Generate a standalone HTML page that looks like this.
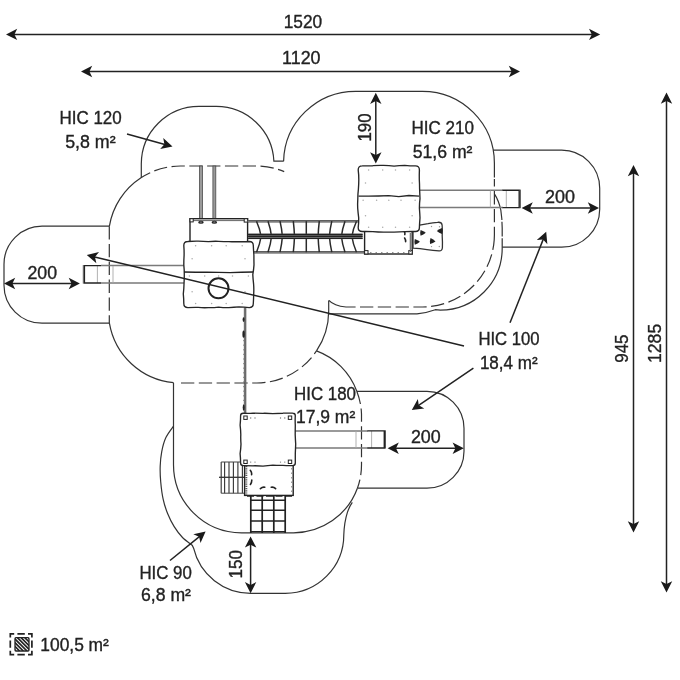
<!DOCTYPE html>
<html>
<head>
<meta charset="utf-8">
<title>Playground safety zones</title>
<style>
html,body{margin:0;padding:0;background:#fff;}
body{width:680px;height:680px;overflow:hidden;}
svg{display:block;}
text{font-family:"Liberation Sans",sans-serif;font-size:17.6px;fill:#222;stroke:#222;stroke-width:0.35px;}
#txt{opacity:0.999;}
.o{fill:none;stroke:#333;stroke-width:1.2;}
.d{fill:none;stroke:#333;stroke-width:1.2;stroke-dasharray:13.3 4.5;}
.dim{fill:none;stroke:#222;stroke-width:1.5;}
.g{fill:none;stroke:#7a7a7a;stroke-width:1.5;}
.k{fill:none;stroke:#222;stroke-width:1.4;}
.ah{fill:#1a1a1a;stroke:none;}
</style>
</head>
<body>
<svg width="680" height="680" viewBox="0 0 680 680">
<rect width="680" height="680" fill="#fff"/>
<!-- safety zone outlines -->
<g id="zones">
<path class="o" d="M109.5,226.2 H42 A38,38 0 0 0 4,264.2 V285.2 A38,38 0 0 0 42,323.2 H109.5"/>
<path class="d" d="M109.3,226.2 V323.2" stroke-dasharray="26.1 5.7 20 6.8 22.9 3.8 12"/>
<path class="o" d="M109.4,226.2 A72,72 0 0 1 141,177.8"/>
<path class="d" d="M141,177.8 A72,72 0 0 1 181.0,166.0 H256.7 A72,72 0 0 1 284.2,171.6" stroke-dashoffset="2.8"/>
<path class="o" d="M109.4,323.2 A72,72 0 0 0 173.5,382.7"/>
<path class="d" d="M181,383.0 H256.7 A72,72 0 0 0 316.5,350.9" stroke-dasharray="15.3 4.5 13.3 4.5 13.3 4.5 13.3 4.5 13.3 4.5 13.3 4.5 13.3 4.5 18.3 20"/>
<path class="o" d="M316.5,350.9 A72,72 0 0 0 328.7,311.0 V300.4"/>
<path class="o" d="M141.3,178 V164 A57.7,57.7 0 0 1 199,106.4 H216.3 A57.7,57.7 0 0 1 273.9,161.2 H283.6"/>
<path class="o" d="M283.6,161.2 A72,71.6 0 0 1 355.6,91.3 H422.4 A72,72 0 0 1 494.4,163.3 V177.5"/>
<path class="o" d="M328.9,300.4 Q334,306 346,307 H355.6"/>
<path class="d" d="M360,307 H422.4 A72,72 0 0 0 494.2,240" stroke-dasharray="13.3 4.4"/>
<path class="d" d="M494.2,240 L494.4,235 V179" stroke-dasharray="0 2.2 15.4 2.4 11.6 4.4 25"/>
<path class="o" d="M494.4,193.8 Q498.8,200.5 500.8,210 Q502.2,219 502.2,228 V248.2 A61.9,61.9 0 0 1 440.3,310.1 L435.3,309.7 Q427,312.8 417,313.8 H328.7"/>
<path d="M499.5,220.9 H504 M500,237.4 H504.5" stroke="#fff" stroke-width="1.7" fill="none"/>
<path class="o" d="M493.2,150.2 H561.7 A38,38 0 0 1 599.7,188.2 V209.2 A38,38 0 0 1 561.7,247.2 H502.2"/>
<path class="o" d="M316.5,350.9 A68,68 0 0 1 356.8,391.2"/>
<path class="d" d="M356.8,391.2 A68,68 0 0 1 361.5,414 V464.8 A68,68 0 0 1 357.4,488.2" stroke-dasharray="0 2 13.7 4.5 13.7 4.5 13.7 4.5 13.7 4.5 13.7 4.5 6 20"/>
<path class="o" d="M173.5,382.7 V464.8 A68,68 0 0 0 241.5,532.8 H293.5 A68,68 0 0 0 357.4,488.2"/>
<path class="o" d="M356.8,391.3 H427 A37,37 0 0 1 464,428.3 V451.2 A37,37 0 0 1 427,488.2 H357.4"/>
<path class="o" d="M173.5,426.2 C172.2,428.1 167.9,433.3 165.9,437.6 C163.9,441.9 162.6,447.1 161.7,451.8 C160.8,456.5 160.4,460.9 160.2,465.9 C160.0,470.9 160.2,476.2 160.7,481.8 C161.2,487.4 162.0,494.1 163.2,499.4 C164.3,504.7 165.8,509.0 167.6,513.5 C169.4,518.0 171.7,522.6 174.2,526.6 C176.7,530.6 179.5,534.4 182.5,537.5 C185.5,540.6 190.6,543.9 192.2,545.2 L193.6,548.2 A58.6,58.6 0 0 0 250.8,593.3 H285.2 A58.6,58.6 0 0 0 343.8,534.7 Q344.3,522 347.4,512.4 Q349.4,506.5 352.3,502.4"/>
</g>
<!-- equipment -->
<g id="equip">
<path d="M245.4,307 V413" stroke="#6a6a6a" stroke-width="1.9" fill="none"/>
<path d="M244.3,307 V413" stroke="#444" stroke-width="0.7" fill="none"/>
<path d="M243.8,340 V405" stroke="#777" stroke-width="1" stroke-dasharray="1.2 3.4" fill="none"/>
<ellipse cx="243.6" cy="319.6" rx="1" ry="2.3" fill="#222"/><ellipse cx="243.6" cy="334.2" rx="1.2" ry="3.6" fill="#222"/><ellipse cx="243.7" cy="407.6" rx="1" ry="3.2" fill="#222"/>
<rect x="199.50" y="166" width="2.9" height="53" fill="#9a9a9a" stroke="#4a4a4a" stroke-width="0.8"/>
<rect x="212.90" y="166" width="2.9" height="53" fill="#9a9a9a" stroke="#4a4a4a" stroke-width="0.8"/>
<path class="g" d="M184,265.6 H101 M184,283 H101"/>
<path d="M97.4,266 V283 M113,266 V283" stroke="#a8a8a8" stroke-width="0.9" fill="none"/>
<path class="k" d="M101,265.6 H84.4 V283 H101" stroke-width="1.5"/><path d="M83.3,265 V283.6" stroke="#555" stroke-width="1" fill="none"/>
<rect x="190" y="218.7" width="57.6" height="26" fill="#fff" stroke="#222" stroke-width="1.4"/>
<path d="M190,220.6 H247.6" stroke="#555" stroke-width="0.9" fill="none"/>
<rect x="190" y="218.7" width="3.2" height="3.2" fill="#fff" stroke="#222" stroke-width="1"/>
<rect x="244.2" y="218.7" width="3.4" height="3.4" fill="#fff" stroke="#222" stroke-width="1"/>
<ellipse cx="200.95" cy="222.2" rx="2.8" ry="1.5" fill="#222"/><ellipse cx="200.95" cy="222.1" rx="1.2" ry="0.5" fill="#999"/>
<ellipse cx="214.35" cy="222.2" rx="2.8" ry="1.5" fill="#222"/><ellipse cx="214.35" cy="222.1" rx="1.2" ry="0.5" fill="#999"/>
<path d="M247.6,221.2 H365 M247.6,252.2 H365" stroke="#444" stroke-width="2.4" fill="none"/>
<path d="M247.6,221.2 H365 M247.6,252.2 H365" stroke="#aaa" stroke-width="0.8" fill="none"/>
<path d="M256.5,221.2 Q259.9,228.8 261.1,236.5 Q259.9,244.3 256.5,252.2" stroke="#2a2a2a" stroke-width="1.5" fill="none"/>
<path d="M268.0,221.2 Q270.7,228.8 271.5,236.5 Q270.7,244.3 268.0,252.2" stroke="#2a2a2a" stroke-width="1.5" fill="none"/>
<path d="M280.0,221.2 Q281.8,228.8 282.4,236.5 Q281.8,244.3 280.0,252.2" stroke="#2a2a2a" stroke-width="1.5" fill="none"/>
<path d="M293.3,221.2 Q294.2,228.8 294.5,236.5 Q294.2,244.3 293.3,252.2" stroke="#2a2a2a" stroke-width="1.5" fill="none"/>
<path d="M306.3,221.2 Q306.3,228.8 306.3,236.5 Q306.3,244.3 306.3,252.2" stroke="#2a2a2a" stroke-width="1.5" fill="none"/>
<path d="M319.3,221.2 Q318.4,228.8 318.1,236.5 Q318.4,244.3 319.3,252.2" stroke="#2a2a2a" stroke-width="1.5" fill="none"/>
<path d="M331.8,221.2 Q330.0,228.8 329.4,236.5 Q330.0,244.3 331.8,252.2" stroke="#2a2a2a" stroke-width="1.5" fill="none"/>
<path d="M345.0,221.2 Q342.3,228.8 341.4,236.5 Q342.3,244.3 345.0,252.2" stroke="#2a2a2a" stroke-width="1.5" fill="none"/>
<path d="M356.5,221.2 Q353.0,228.8 351.9,236.5 Q353.0,244.3 356.5,252.2" stroke="#2a2a2a" stroke-width="1.5" fill="none"/>
<rect x="248.1" y="233.7" width="114.50000000000003" height="5.4" fill="#6a6a6a"/>
<path d="M248.1,234.3 H362.6 M248.1,236.4 H362.6 M248.1,238.5 H362.6" stroke="#222" stroke-width="1.2" fill="none"/>
<path class="g" d="M419,190.2 H503 M419,207.6 H503"/>
<path d="M490.4,190.5 V207.5 M506.3,190.5 V207.5" stroke="#a8a8a8" stroke-width="0.9" fill="none"/>
<path class="k" d="M502.5,190.2 H519.2 V207.6 H502.5" stroke-width="1.5"/><path d="M520.4,189.6 V208.2" stroke="#555" stroke-width="1" fill="none"/>
<rect x="364.6" y="228" width="47.6" height="26" fill="#fff" stroke="#222" stroke-width="1.4"/>
<rect x="364.6" y="250.6" width="3.4" height="3.4" fill="#fff" stroke="#222" stroke-width="1"/>
<rect x="408.8" y="250.6" width="3.4" height="3.4" fill="#fff" stroke="#222" stroke-width="1"/>
<path d="M370,252.6 H407" stroke="#666" stroke-width="0.8" stroke-dasharray="1.5 4" fill="none"/>
<path d="M404.3,231.5 Q405.3,233 404.8,234.6 M404.6,238 Q405.8,239.8 405.6,241.6" stroke="#222" stroke-width="1.6" fill="none" stroke-linecap="round"/>
<path d="M410.4,233 V252" stroke="#777" stroke-width="1.4" fill="none"/>
<path d="M413,226.4 Q416,225.6 419.5,225.2 Q424,224.2 428,223.6 Q433,222.6 437.5,222.3 Q441.6,221.8 442.1,225 Q442.6,230 442.2,236 Q442.6,242 442.4,247.6 Q442.3,251 439,250.8 Q433,250.3 427,249.6 Q420,248.7 413,248.2 Z" fill="#fff" stroke="#333" stroke-width="1.3"/>
<path transform="translate(423,232.8) rotate(0)" d="M-2.4,-2.9 Q0.5,-2 2.8,0 Q0.5,2 -2.4,2.9 Q-3.2,0 -2.4,-2.9Z" fill="#222"/>
<path transform="translate(439.6,231) rotate(180)" d="M-2.4,-2.9 Q0.5,-2 2.8,0 Q0.5,2 -2.4,2.9 Q-3.2,0 -2.4,-2.9Z" fill="#222"/>
<path transform="translate(417.2,241.8) rotate(0)" d="M-2.4,-2.9 Q0.5,-2 2.8,0 Q0.5,2 -2.4,2.9 Q-3.2,0 -2.4,-2.9Z" fill="#222"/>
<path transform="translate(432.7,241.2) rotate(5)" d="M-2.4,-2.9 Q0.5,-2 2.8,0 Q0.5,2 -2.4,2.9 Q-3.2,0 -2.4,-2.9Z" fill="#222"/>
<circle cx="431.5" cy="226.5" r="0.7" fill="#999"/>
<circle cx="439.5" cy="226.8" r="0.7" fill="#999"/>
<circle cx="431.5" cy="246.6" r="0.7" fill="#999"/>
<circle cx="439.3" cy="246.5" r="0.7" fill="#999"/>
<circle cx="416" cy="229" r="0.7" fill="#999"/>
<path d="M362.2,165.9 Q367.6,165.7 372.8,165.7 Q378.5,165.2 383.5,165.4 Q389.1,165.6 394.1,166.1 Q399.2,165.4 404.8,165.3 Q409.9,165.8 415.4,165.9 Q419.4,165.9 419.4,169.9 Q419.2,174.8 419.3,179.5 Q419.6,184.2 419.6,189.1 Q419.8,193.6 420.0,198.7 Q419.4,203.3 419.4,208.3 Q419.8,213.0 420.0,217.9 Q419.6,222.8 419.4,227.5 Q419.4,231.5 415.4,231.5 Q410.0,231.4 404.8,231.6 Q399.6,232.0 394.1,232.1 Q388.6,232.1 383.5,232.1 Q378.2,232.1 372.8,231.6 Q367.7,231.4 362.2,231.5 Q358.2,231.5 358.2,227.5 Q358.8,222.4 358.7,217.9 Q358.1,213.3 357.7,208.3 Q357.5,203.5 357.8,198.7 Q357.8,194.0 358.4,189.1 Q358.8,184.4 358.8,179.5 Q358.8,174.6 358.2,169.9 Q358.2,165.9 362.2,165.9Z" fill="#fff" stroke="#262626" stroke-width="1.35"/>
<path d="M358.5,196.2 L368.6,196.1 L378.7,196.0 L388.8,195.7 L398.8,196.7 L408.9,195.5 L419.0,196.2" fill="none" stroke="#262626" stroke-width="1.3"/>
<path d="M187.8,241.5 Q193.0,241.0 198.1,241.1 Q203.4,241.4 208.3,241.6 Q213.3,241.1 218.6,241.3 Q223.9,241.5 228.8,241.6 Q234.1,241.9 239.1,241.7 Q244.3,241.9 249.3,241.5 Q253.3,241.5 253.3,245.5 Q253.5,250.6 253.9,255.2 Q253.9,260.3 254.0,264.9 Q253.7,269.4 252.8,274.6 Q253.0,279.2 253.6,284.2 Q254.0,289.0 253.7,293.9 Q253.6,298.6 253.3,303.6 Q253.3,307.6 249.3,307.6 Q244.2,307.2 239.1,306.9 Q233.8,307.3 228.8,307.6 Q223.7,307.7 218.6,307.1 Q213.6,307.7 208.3,307.6 Q203.4,307.9 198.1,307.4 Q193.0,307.3 187.8,307.6 Q183.8,307.6 183.8,303.6 Q183.8,299.1 183.3,293.9 Q183.9,289.1 184.0,284.2 Q184.3,279.2 184.3,274.6 Q184.3,269.8 183.8,264.9 Q183.8,259.7 184.1,255.2 Q184.2,250.7 183.8,245.5 Q183.8,241.5 187.8,241.5Z" fill="#fff" stroke="#262626" stroke-width="1.35"/>
<path d="M184.0,272.0 L195.5,272.2 L207.0,272.3 L218.5,272.4 L230.0,272.6 L241.5,272.3 L253.0,272.0" fill="none" stroke="#222" stroke-width="1.4"/>
<circle cx="195.6" cy="245.7" r="0.75" fill="#aaa"/>
<circle cx="195.6" cy="303.4" r="0.75" fill="#aaa"/>
<circle cx="211.6" cy="245.7" r="0.75" fill="#aaa"/>
<circle cx="211.6" cy="303.4" r="0.75" fill="#aaa"/>
<circle cx="226.2" cy="245.7" r="0.75" fill="#aaa"/>
<circle cx="226.2" cy="303.4" r="0.75" fill="#aaa"/>
<circle cx="242.2" cy="245.7" r="0.75" fill="#aaa"/>
<circle cx="242.2" cy="303.4" r="0.75" fill="#aaa"/>
<circle cx="189.4" cy="276.0" r="0.75" fill="#aaa"/>
<circle cx="204.7" cy="276.0" r="0.75" fill="#aaa"/>
<circle cx="218.6" cy="276.0" r="0.75" fill="#aaa"/>
<circle cx="232.5" cy="276.0" r="0.75" fill="#aaa"/>
<circle cx="248.4" cy="276.0" r="0.75" fill="#aaa"/>
<circle cx="192.1" cy="258.8" r="0.75" fill="#aaa"/>
<circle cx="192.1" cy="291.8" r="0.75" fill="#aaa"/>
<circle cx="245.0" cy="258.8" r="0.75" fill="#aaa"/>
<circle cx="245.0" cy="291.8" r="0.75" fill="#aaa"/>
<circle cx="368.6" cy="170.1" r="0.75" fill="#aaa"/>
<circle cx="368.6" cy="227.3" r="0.75" fill="#aaa"/>
<circle cx="382.7" cy="170.1" r="0.75" fill="#aaa"/>
<circle cx="382.7" cy="227.3" r="0.75" fill="#aaa"/>
<circle cx="395.5" cy="170.1" r="0.75" fill="#aaa"/>
<circle cx="395.5" cy="227.3" r="0.75" fill="#aaa"/>
<circle cx="409.6" cy="170.1" r="0.75" fill="#aaa"/>
<circle cx="409.6" cy="227.3" r="0.75" fill="#aaa"/>
<circle cx="363.1" cy="200.2" r="0.75" fill="#aaa"/>
<circle cx="376.6" cy="200.2" r="0.75" fill="#aaa"/>
<circle cx="388.8" cy="200.2" r="0.75" fill="#aaa"/>
<circle cx="401.0" cy="200.2" r="0.75" fill="#aaa"/>
<circle cx="415.1" cy="200.2" r="0.75" fill="#aaa"/>
<circle cx="365.5" cy="183.1" r="0.75" fill="#aaa"/>
<circle cx="365.5" cy="215.8" r="0.75" fill="#aaa"/>
<circle cx="412.1" cy="183.1" r="0.75" fill="#aaa"/>
<circle cx="412.1" cy="215.8" r="0.75" fill="#aaa"/>
<circle cx="218.5" cy="288.3" r="10" fill="none" stroke="#222" stroke-width="2"/>
<path class="g" d="M295,430.9 H368 M295,448 H368"/>
<path d="M356,431 V448 M371.6,431 V448" stroke="#a8a8a8" stroke-width="0.9" fill="none"/>
<path class="k" d="M367.5,430.9 H384.3 V448 H367.5" stroke-width="1.5"/><path d="M385.5,430.3 V448.6" stroke="#555" stroke-width="1" fill="none"/>
<path d="M221.2,462 V493.2 M224.6,462 V493.2 M229.0,462 V493.2 M233.4,462 V493.2 M237.9,462 V493.2 M242.4,462 V493.2" stroke="#3a3a3a" stroke-width="1.15" fill="none"/>
<path d="M221.2,462 H244 M221.2,493.2 H244" stroke="#444" stroke-width="1" fill="none"/>
<path d="M219,477.3 H245" stroke="#333" stroke-width="1.3" fill="none"/>
<path d="M250.8,496 V533 M262.2,496 V533 M273.8,496 V533 M285.2,496 V533" stroke="#222" stroke-width="1.7" fill="none"/>
<path d="M250.8,500.2 H285.2 M250.8,510.3 H285.2 M250.8,521 H285.2 M250.8,531.6 H285.2" stroke="#222" stroke-width="1.4" fill="none"/>
<rect x="244.6" y="465" width="48.6" height="30.4" fill="#fff" stroke="#222" stroke-width="1.4"/>
<path d="M246.3,466 V495" stroke="#555" stroke-width="2" stroke-dasharray="1.2 1" fill="none"/>
<path d="M291.6,468 V494" stroke="#777" stroke-width="0.8" stroke-dasharray="1.5 3" fill="none"/>
<path d="M247,496 H292" stroke="#222" stroke-width="1.6" stroke-dasharray="7 2.5" fill="none"/>
<path d="M250.3,470.3 Q252,472.3 251.6,474.6 M251.8,480 Q251.8,482.6 250.4,484.4 M260.4,488.6 Q262.4,486.8 264.8,487.2 M271.2,487.2 Q273.8,486.8 275.6,488.6" stroke="#222" stroke-width="1.6" fill="none" stroke-linecap="round"/>
<path d="M243.1,413.2 Q248.4,413.5 253.0,413.1 Q258.1,413.3 263.0,413.3 Q267.7,413.2 272.9,413.7 Q277.9,413.2 282.9,413.2 Q287.6,413.0 292.8,413.2 Q295.3,413.2 295.3,415.7 Q295.0,420.4 295.3,425.2 Q295.2,430.1 295.2,434.7 Q295.4,439.5 295.7,444.1 Q295.5,449.0 295.3,453.6 Q295.3,458.2 295.3,463.1 Q295.3,465.6 292.8,465.6 Q288.1,465.8 282.9,465.4 Q278.1,465.5 272.9,465.2 Q267.8,465.5 263.0,466.1 Q257.9,465.7 253.0,465.8 Q248.2,465.7 243.1,465.6 Q240.6,465.6 240.6,463.1 Q240.6,458.3 240.1,453.6 Q240.8,449.1 241.0,444.1 Q240.6,439.2 240.8,434.7 Q240.7,429.9 240.1,425.2 Q240.6,420.4 240.6,415.7 Q240.6,413.2 243.1,413.2Z" fill="#fff" stroke="#262626" stroke-width="1.35"/>
<rect x="243.8" y="416.0" width="3.4" height="3.4" fill="#fff" stroke="#222" stroke-width="1"/>
<circle cx="250.7" cy="418.0" r="0.7" fill="#777"/><circle cx="255.0" cy="418.0" r="0.7" fill="#777"/>
<rect x="288.3" y="416.0" width="3.4" height="3.4" fill="#fff" stroke="#222" stroke-width="1"/>
<circle cx="284.8" cy="418.0" r="0.7" fill="#777"/><circle cx="280.5" cy="418.0" r="0.7" fill="#777"/>
<rect x="243.8" y="460.1" width="3.4" height="3.4" fill="#fff" stroke="#222" stroke-width="1"/>
<circle cx="250.7" cy="462.1" r="0.7" fill="#777"/><circle cx="255.0" cy="462.1" r="0.7" fill="#777"/>
<rect x="288.3" y="460.1" width="3.4" height="3.4" fill="#fff" stroke="#222" stroke-width="1"/>
<circle cx="284.8" cy="462.1" r="0.7" fill="#777"/><circle cx="280.5" cy="462.1" r="0.7" fill="#777"/>
</g>
<!-- dimension lines and leaders -->
<g id="dims">
<path class="dim" d="M11,34.4 H595.2"/>
<path class="ah" d="M0,0 L-11.2,-5.7 L-8.4,0 L-11.2,5.7 Z" transform="translate(6,34.4) rotate(180)"/>
<path class="ah" d="M0,0 L-11.2,-5.7 L-8.4,0 L-11.2,5.7 Z" transform="translate(600.2,34.4) rotate(0)"/>
<path class="dim" d="M86,71.5 H515"/>
<path class="ah" d="M0,0 L-11.2,-5.7 L-8.4,0 L-11.2,5.7 Z" transform="translate(81,71.5) rotate(180)"/>
<path class="ah" d="M0,0 L-11.2,-5.7 L-8.4,0 L-11.2,5.7 Z" transform="translate(520,71.5) rotate(0)"/>
<path class="dim" d="M666.5,97.5 V587.5"/>
<path class="ah" d="M0,0 L-11.2,-5.7 L-8.4,0 L-11.2,5.7 Z" transform="translate(666.5,92.5) rotate(-90)"/>
<path class="ah" d="M0,0 L-11.2,-5.7 L-8.4,0 L-11.2,5.7 Z" transform="translate(666.5,592.5) rotate(90)"/>
<path class="dim" d="M633.5,170 V527.5"/>
<path class="ah" d="M0,0 L-11.2,-5.7 L-8.4,0 L-11.2,5.7 Z" transform="translate(633.5,165) rotate(-90)"/>
<path class="ah" d="M0,0 L-11.2,-5.7 L-8.4,0 L-11.2,5.7 Z" transform="translate(633.5,532.5) rotate(90)"/>
<path class="dim" d="M375.8,97.7 V158.5"/>
<path class="ah" d="M0,0 L-11.2,-5.7 L-8.4,0 L-11.2,5.7 Z" transform="translate(375.8,92.7) rotate(-90)"/>
<path class="ah" d="M0,0 L-11.2,-5.7 L-8.4,0 L-11.2,5.7 Z" transform="translate(375.8,163.5) rotate(90)"/>
<path class="dim" d="M9,283.5 H74.9"/>
<path class="ah" d="M0,0 L-11.2,-5.7 L-8.4,0 L-11.2,5.7 Z" transform="translate(4,283.5) rotate(180)"/>
<path class="ah" d="M0,0 L-11.2,-5.7 L-8.4,0 L-11.2,5.7 Z" transform="translate(79.9,283.5) rotate(0)"/>
<path class="dim" d="M526.6,208 H594"/>
<path class="ah" d="M0,0 L-11.2,-5.7 L-8.4,0 L-11.2,5.7 Z" transform="translate(521.6,208) rotate(180)"/>
<path class="ah" d="M0,0 L-11.2,-5.7 L-8.4,0 L-11.2,5.7 Z" transform="translate(599,208) rotate(0)"/>
<path class="dim" d="M392.6,448.2 H458.8"/>
<path class="ah" d="M0,0 L-11.2,-5.7 L-8.4,0 L-11.2,5.7 Z" transform="translate(387.6,448.2) rotate(180)"/>
<path class="ah" d="M0,0 L-11.2,-5.7 L-8.4,0 L-11.2,5.7 Z" transform="translate(463.8,448.2) rotate(0)"/>
<path class="dim" d="M250.6,541.4 V588.3"/>
<path class="ah" d="M0,0 L-11.2,-5.7 L-8.4,0 L-11.2,5.7 Z" transform="translate(250.6,536.4) rotate(-90)"/>
<path class="ah" d="M0,0 L-11.2,-5.7 L-8.4,0 L-11.2,5.7 Z" transform="translate(250.6,593.3) rotate(90)"/>
<path class="dim" d="M127,134 L166.7,145.0"/>
<path class="ah" d="M0,0 L-11.2,-5.7 L-8.4,0 L-11.2,5.7 Z" transform="translate(172.5,146.6) rotate(15.5)"/>
<path class="dim" d="M464,345.9 L92.6,256.4"/>
<path class="ah" d="M0,0 L-11.2,-5.7 L-8.4,0 L-11.2,5.7 Z" transform="translate(86.8,255) rotate(-166.5)"/>
<path class="dim" d="M510,322.8 L544.0,237.4"/>
<path class="ah" d="M0,0 L-11.2,-5.7 L-8.4,0 L-11.2,5.7 Z" transform="translate(546.2,231.8) rotate(-68.3)"/>
<path class="dim" d="M473.4,368.2 L416.8,406.6"/>
<path class="ah" d="M0,0 L-11.2,-5.7 L-8.4,0 L-11.2,5.7 Z" transform="translate(411.8,410) rotate(145.8)"/>
<path class="dim" d="M170,560.5 L200.9,535.3"/>
<path class="ah" d="M0,0 L-11.2,-5.7 L-8.4,0 L-11.2,5.7 Z" transform="translate(205.6,531.5) rotate(-39.2)"/>
</g>
<!-- legend -->
<g id="legend">
<path d="M10.3,637.6 V633.8 H14.2 M28,633.8 H31.9 V637.6 M31.9,650.8 V654.6 H28 M14.2,654.6 H10.3 V650.8 M17.4,633.8 H24.8 M17.4,654.6 H24.8 M10.3,640.6 V647.8 M31.9,640.6 V647.8" fill="none" stroke="#222" stroke-width="1.7"/>
<clipPath id="lc"><rect x="15" y="637.7" width="14" height="13.3" rx="1"/></clipPath>
<rect x="15" y="637.7" width="14" height="13.3" rx="1" fill="#fff"/>
<path clip-path="url(#lc)" d="M2.6,637.7 l13.3,13.3 M6.3,637.7 l13.3,13.3 M10.0,637.7 l13.3,13.3 M13.7,637.7 l13.3,13.3 M17.4,637.7 l13.3,13.3 M21.1,637.7 l13.3,13.3 M24.8,637.7 l13.3,13.3 M28.5,637.7 l13.3,13.3" stroke="#222" stroke-width="1.7" fill="none"/>
<rect x="15" y="637.7" width="14" height="13.3" rx="1" fill="none" stroke="#222" stroke-width="1.3"/>
</g>
<!-- labels -->
<g id="txt" text-anchor="middle">
<text x="303" y="27.5" textLength="38.5" lengthAdjust="spacingAndGlyphs">1520</text>
<text x="301.3" y="63.9" textLength="38.5" lengthAdjust="spacingAndGlyphs">1120</text>
<text x="90.6" y="123.6" textLength="62.3" lengthAdjust="spacingAndGlyphs">HIC 120</text>
<text x="90.4" y="148" textLength="50.5" lengthAdjust="spacingAndGlyphs">5,8 m²</text>
<text x="442.7" y="134" textLength="62.5" lengthAdjust="spacingAndGlyphs">HIC 210</text>
<text x="442.6" y="157.8" textLength="59.8" lengthAdjust="spacingAndGlyphs">51,6 m²</text>
<text x="560" y="202.8" textLength="30" lengthAdjust="spacingAndGlyphs">200</text>
<text x="42.3" y="278.6" textLength="29.6" lengthAdjust="spacingAndGlyphs">200</text>
<text x="509" y="345.2" textLength="61.2" lengthAdjust="spacingAndGlyphs">HIC 100</text>
<text x="508.8" y="369" textLength="57.8" lengthAdjust="spacingAndGlyphs">18,4 m²</text>
<text x="325" y="399.7" textLength="62" lengthAdjust="spacingAndGlyphs">HIC 180</text>
<text x="325.6" y="423.2" textLength="59.3" lengthAdjust="spacingAndGlyphs">17,9 m²</text>
<text x="425.8" y="443" textLength="29.8" lengthAdjust="spacingAndGlyphs">200</text>
<text x="165.6" y="578.5" textLength="52.4" lengthAdjust="spacingAndGlyphs">HIC 90</text>
<text x="166" y="601" textLength="50" lengthAdjust="spacingAndGlyphs">6,8 m²</text>
<text x="74.6" y="651" textLength="68.6" lengthAdjust="spacingAndGlyphs">100,5 m²</text>
<text transform="translate(371.3,127.5) rotate(-90)" textLength="28" lengthAdjust="spacingAndGlyphs">190</text>
<text transform="translate(241.5,564.2) rotate(-90)" textLength="28.4" lengthAdjust="spacingAndGlyphs">150</text>
<text transform="translate(627.7,348.6) rotate(-90)" textLength="28.3" lengthAdjust="spacingAndGlyphs">945</text>
<text transform="translate(661.1,343.4) rotate(-90)" textLength="39.2" lengthAdjust="spacingAndGlyphs">1285</text>
</g>
</svg>
</body>
</html>
